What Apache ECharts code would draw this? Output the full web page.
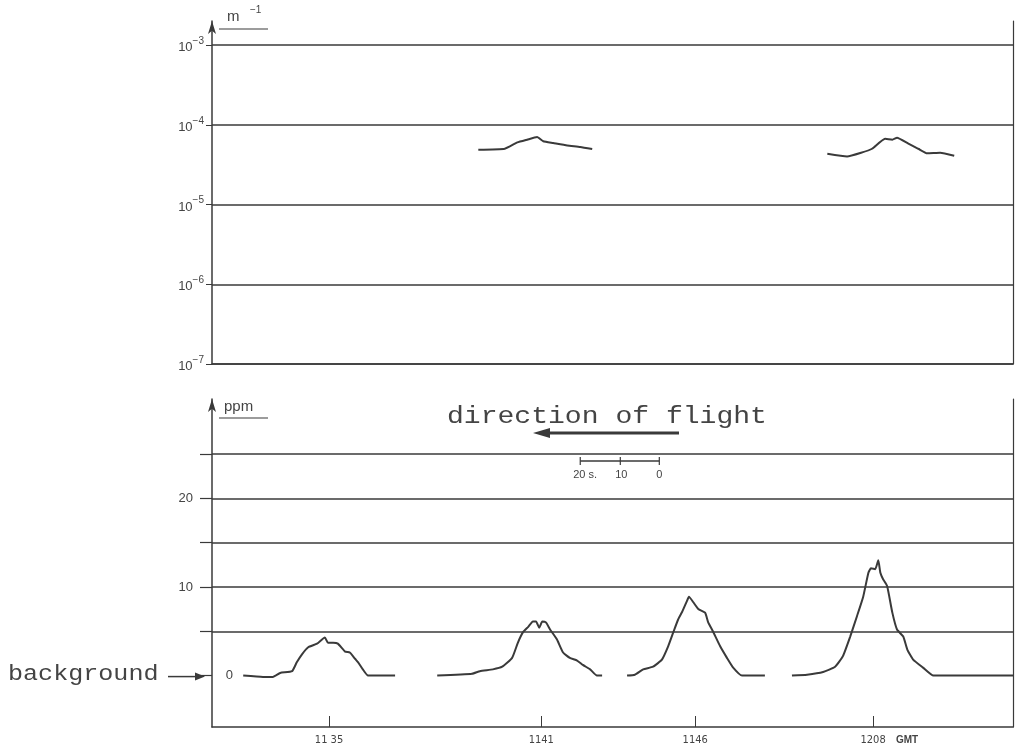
<!DOCTYPE html>
<html><head><meta charset="utf-8">
<script src="https://cdn.jsdelivr.net/npm/echarts@6/dist/echarts.min.js"></script>
<style>html,body{margin:0;padding:0;background:#fff;}#c{width:1021px;height:751px;}</style>
</head><body><div id="c"></div>
<script>
// ---- data (x = position along the recording, arbitrary record units) ----
const xMin = 0, xMax = 154;
const timeTickPos = [22.5, 63.3, 92.9, 127.1];
const timeTickLabels = ['11 35', '1141', '1146', '1208'];
const extTicks = [1e-7, 1e-6, 1e-5, 1e-4, 1e-3];
const ppmGrid = [0, 5, 10, 15, 20, 25];
const ppmLabels = [0, 10, 20];
const scaleBarPos = [70.8, 78.5, 86.0];
const scaleBarLabels = ['20 s.', '10', '0'];

const ext1 = [[51.2,4.86e-5],[56.3,5.0e-5],[58.7,6.0e-5],[60.6,6.5e-5],[62.5,7.0e-5],[63.7,6.2e-5],[65.6,5.9e-5],[68.3,5.5e-5],[70.8,5.25e-5],[73.1,4.95e-5]];
const ext2 = [[118.3,4.33e-5],[122.1,4.0e-5],[124.8,4.45e-5],[126.9,5.0e-5],[129.4,6.67e-5],[130.8,6.5e-5],[131.7,6.87e-5],[133.8,5.85e-5],[135.8,5.0e-5],[137.5,4.38e-5],[140.0,4.45e-5],[142.7,4.08e-5]];

const ppm1 = [[6.0,0],[9.8,-0.15],[11.7,-0.15],[13.1,0.3],[15.4,0.5],[16.3,1.5],[17.3,2.4],[18.5,3.2],[20.2,3.6],[21.7,4.3],[22.3,3.7],[23.3,3.7],[24.2,3.6],[25.6,2.7],[26.5,2.6],[27.5,1.9],[28.1,1.5],[29.0,0.7],[30.0,0],[35.2,0]];
const ppm2 = [[43.3,0],[50.0,0.2],[51.5,0.5],[54.0,0.7],[55.8,1.0],[57.7,2.0],[58.8,3.7],[59.8,4.9],[60.8,5.5],[61.7,6.1],[62.3,6.1],[62.9,5.4],[63.5,6.1],[64.2,6.0],[65.0,5.2],[66.3,4.1],[67.5,2.6],[68.8,2.0],[70.2,1.7],[71.3,1.2],[72.7,0.7],[74.0,0],[75.0,0]];
const ppm3 = [[79.8,0],[81.3,0.1],[82.9,0.7],[84.8,1.0],[86.5,1.8],[87.7,3.3],[88.7,4.9],[89.6,6.3],[90.4,7.2],[91.3,8.4],[91.7,8.9],[92.5,8.3],[93.5,7.5],[94.8,7.1],[95.4,6.0],[96.3,5.0],[97.7,3.3],[99.0,2.0],[100.2,0.9],[101.9,0],[106.3,0]];
const ppm4 = [[111.5,0],[114.4,0.1],[117.5,0.4],[119.8,1.0],[121.3,2.2],[122.7,4.4],[124.0,6.7],[125.2,8.9],[126.2,11.6],[126.7,12.1],[127.5,12.0],[128.1,13.0],[128.5,11.6],[129.0,10.9],[129.8,10.1],[130.8,7.1],[131.7,5.2],[132.9,4.4],[133.7,2.9],[134.8,1.8],[136.7,0.9],[138.7,0],[154,0]];

// ---- styling ----
const INK = '#3a3a3a';
const TXT = '#444';
const SANS = '"Liberation Sans", "DejaVu Sans", sans-serif';
const MONO = '"Liberation Mono", "DejaVu Sans Mono", monospace';

const chart = echarts.init(document.getElementById('c'), null, {renderer: 'canvas'});

function lineSeries(data, xi, yi) {
  return {type: 'line', data: data, xAxisIndex: xi, yAxisIndex: yi, showSymbol: false,
    symbol: 'none', smooth: 0.15, lineStyle: {color: INK, width: 2}, silent: true, animation: false};
}

const option = {
  backgroundColor: '#fff',
  animation: false,
  grid: [
    {left: 212, top: 21, width: 801, height: 343},
    {left: 212, top: 399, width: 801, height: 328}
  ],
  xAxis: [
    {gridIndex: 0, type: 'value', min: xMin, max: xMax,
      axisLine: {show: true, onZero: false, lineStyle: {color: INK, width: 1.5}},
      axisTick: {show: false}, axisLabel: {show: false}, splitLine: {show: false}},
    {gridIndex: 1, type: 'value', min: xMin, max: xMax,
      axisLine: {show: true, onZero: false, lineStyle: {color: INK, width: 1.5}},
      axisTick: {show: true, inside: true, length: 11, customValues: timeTickPos, lineStyle: {color: INK, width: 1}},
      axisLabel: {show: true, customValues: timeTickPos, margin: 8, color: TXT,
        fontFamily: '"Liberation Sans Narrow", "DejaVu Sans Condensed", ' + SANS, fontSize: 11,
        formatter: function (v) {
          let best = 0;
          for (let i = 1; i < timeTickPos.length; i++) if (Math.abs(timeTickPos[i] - v) < Math.abs(timeTickPos[best] - v)) best = i;
          const t = timeTickLabels[best];
          if (best === timeTickLabels.length - 1) return '{p| }{t|' + t + '}{g| GMT}';
          return '{t|' + t + '}';
        },
        rich: {
          p: {width: 40, fontSize: 11},
          t: {fontSize: 11, color: TXT, fontFamily: '"Liberation Sans Narrow", "DejaVu Sans Condensed", ' + SANS},
          g: {fontSize: 10, fontWeight: 'bold', color: TXT, fontFamily: SANS, width: 40}
        }},
      splitLine: {show: false}}
  ],
  yAxis: [
    {gridIndex: 0, type: 'log', logBase: 10, min: 1e-7, max: 2e-3,
      axisLine: {show: true, symbol: ['none', 'arrow'], symbolSize: [6, 13], lineStyle: {color: INK, width: 1.5}},
      axisTick: {show: true, length: 6, customValues: extTicks, lineStyle: {color: INK, width: 1}},
      axisLabel: {show: true, customValues: extTicks, margin: 8,
        formatter: function (v) {
          const e = Math.round(Math.log10(v));
          return '{b|10}{s|\u2212' + (-e) + '}';
        },
        rich: {
          b: {fontSize: 13, color: TXT, fontFamily: SANS, lineHeight: 18, verticalAlign: 'bottom'},
          s: {fontSize: 10, color: TXT, fontFamily: SANS, lineHeight: 10, verticalAlign: 'top'}
        }},
      splitLine: {show: true, lineStyle: {color: INK, width: 1.5}}},
    {gridIndex: 0, type: 'value', min: 0, max: 1, position: 'right',
      axisLine: {show: true, lineStyle: {color: INK, width: 1.2}},
      axisTick: {show: false}, axisLabel: {show: false}, splitLine: {show: false}},
    {gridIndex: 1, type: 'value', min: -5.8, max: 31.2,
      axisLine: {show: true, symbol: ['none', 'arrow'], symbolSize: [6, 13], lineStyle: {color: INK, width: 1.5}},
      axisTick: {show: true, length: 12, customValues: ppmGrid, lineStyle: {color: INK, width: 1.2}},
      axisLabel: {show: true, customValues: ppmLabels, margin: -21, color: TXT, fontFamily: SANS, fontSize: 13,
        formatter: function (v) { return v === 0 ? '{z|0}' : '{n|' + v + '}'; },
        rich: {
          z: {fontSize: 13, color: TXT, fontFamily: SANS},
          n: {fontSize: 13, color: TXT, fontFamily: SANS, padding: [0, 40, 0, 0]}
        }},
      splitLine: {show: true, lineStyle: {color: ['rgba(0,0,0,0)', INK, INK, INK, INK, INK], width: 1.5}}},
    {gridIndex: 1, type: 'value', min: 0, max: 1, position: 'right',
      axisLine: {show: true, lineStyle: {color: INK, width: 1.2}},
      axisTick: {show: false}, axisLabel: {show: false}, splitLine: {show: false}}
  ],
  series: [
    lineSeries(ext1, 0, 0),
    lineSeries(ext2, 0, 0),
    lineSeries(ppm1, 1, 2),
    lineSeries(ppm2, 1, 2),
    lineSeries(ppm3, 1, 2),
    lineSeries(ppm4, 1, 2)
  ]
};
chart.setOption(option);

// ---- annotations positioned through the axes ----
const y0 = chart.convertToPixel({yAxisIndex: 2}, 0);
const sx = scaleBarPos.map(v => chart.convertToPixel({xAxisIndex: 1}, v));
const g = [];
// units
g.push({type: 'text', x: 227, y: 17, style: {text: 'm', fontSize: 15, fontFamily: SANS, fill: TXT, verticalAlign: 'middle'}});
g.push({type: 'text', x: 250, y: 10, style: {text: '\u22121', fontSize: 10, fontFamily: SANS, fill: TXT, verticalAlign: 'middle'}});
g.push({type: 'line', shape: {x1: 219, y1: 29, x2: 268, y2: 29}, style: {stroke: INK, lineWidth: 1.2}});
g.push({type: 'text', x: 224, y: 407, style: {text: 'ppm', fontSize: 15, fontFamily: SANS, fill: TXT, verticalAlign: 'middle'}});
g.push({type: 'line', shape: {x1: 219, y1: 418, x2: 268, y2: 418}, style: {stroke: INK, lineWidth: 1.2}});
// direction of flight
g.push({type: 'text', x: 447, y: 417, scaleX: 1.22, style: {text: 'direction of flight', fontSize: 23, fontFamily: MONO, fill: TXT, verticalAlign: 'middle'}});
g.push({type: 'line', shape: {x1: 546, y1: 433, x2: 679, y2: 433}, style: {stroke: INK, lineWidth: 3}});
g.push({type: 'polygon', shape: {points: [[533, 433], [550, 428], [550, 438]]}, style: {fill: INK}});
// background label
g.push({type: 'text', x: 8, y: y0 - 1, scaleX: 1.14, style: {text: 'background', fontSize: 22, fontFamily: MONO, fill: TXT, verticalAlign: 'middle'}});
g.push({type: 'line', shape: {x1: 168, y1: y0 + 1, x2: 198, y2: y0 + 1}, style: {stroke: INK, lineWidth: 1.5}});
g.push({type: 'polygon', shape: {points: [[205, y0 + 1], [195, y0 - 3], [195, y0 + 5]]}, style: {fill: INK}});
// time scale bar
g.push({type: 'line', shape: {x1: sx[0], y1: 461, x2: sx[2], y2: 461}, style: {stroke: INK, lineWidth: 1.5}});
sx.forEach(function (p) { g.push({type: 'line', shape: {x1: p, y1: 457, x2: p, y2: 465}, style: {stroke: INK, lineWidth: 1.2}}); });
g.push({type: 'text', x: sx[0] - 7, y: 475, style: {text: scaleBarLabels[0], fontSize: 11, fontFamily: SANS, fill: TXT, verticalAlign: 'middle', align: 'left'}});
g.push({type: 'text', x: sx[1] + 1, y: 475, style: {text: scaleBarLabels[1], fontSize: 11, fontFamily: SANS, fill: TXT, verticalAlign: 'middle', align: 'center'}});
g.push({type: 'text', x: sx[2], y: 475, style: {text: scaleBarLabels[2], fontSize: 11, fontFamily: SANS, fill: TXT, verticalAlign: 'middle', align: 'center'}});
chart.setOption({graphic: g});
</script></body></html>
